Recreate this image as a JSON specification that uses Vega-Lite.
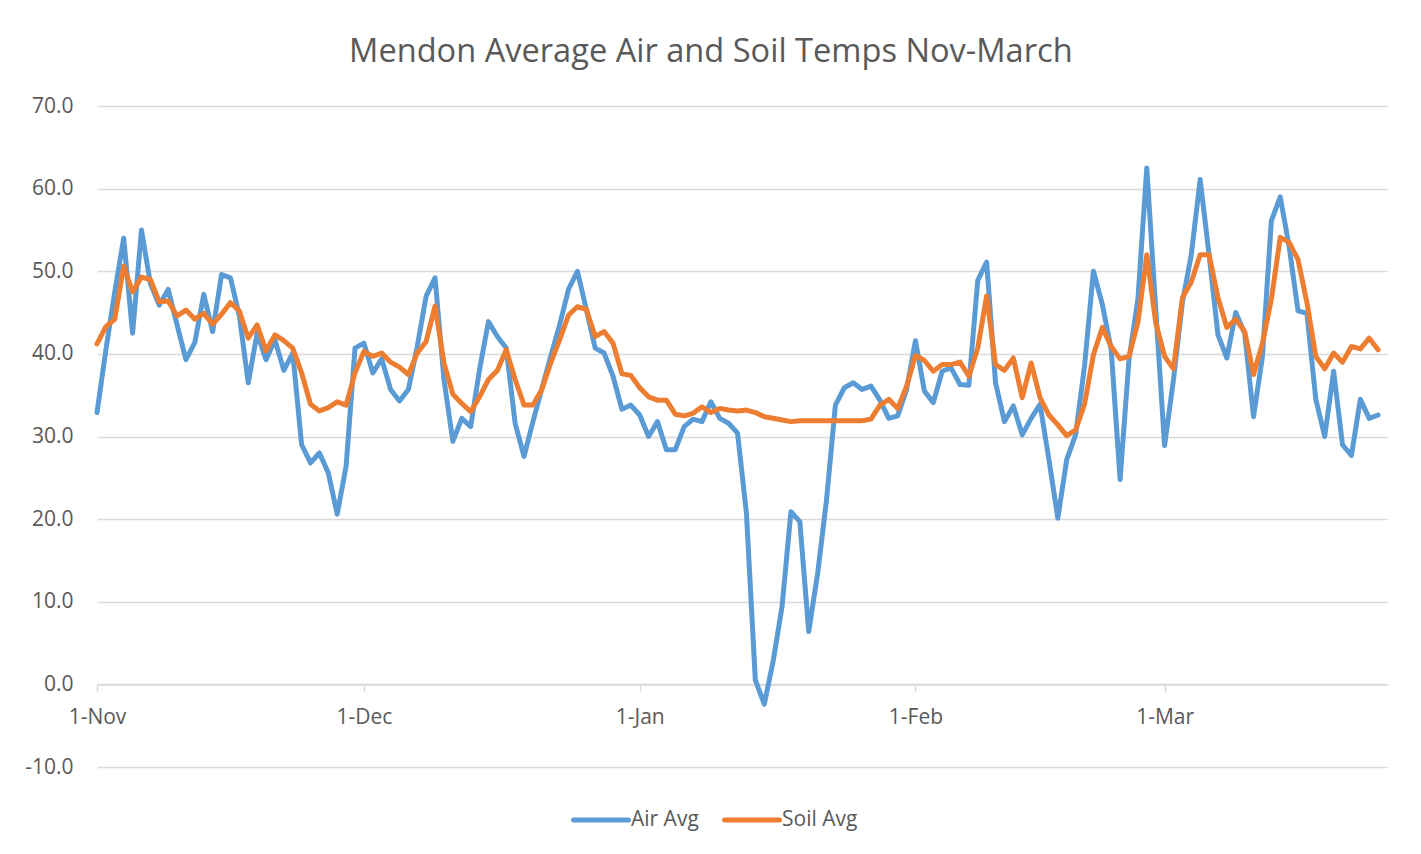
{
  "$schema": "https://vega.github.io/schema/vega-lite/v6.json",
  "width": 1290,
  "height": 661,
  "autosize": {"type": "none"},
  "padding": {"left": 97, "top": 106, "right": 34, "bottom": 87},
  "background": "white",
  "title": {
    "text": "Mendon Average Air and Soil Temps Nov-March",
    "font": "Open Sans",
    "fontSize": 32.6,
    "fontWeight": "normal",
    "color": "#595959",
    "anchor": "middle",
    "frame": "bounds",
    "offset": 26,
    "dx": 5
  },
  "data": {
    "values": [
      {"date":"2020-11-01","Air Avg":32.9,"Soil Avg":41.2},
      {"date":"2020-11-02","Air Avg":40.5,"Soil Avg":43.3},
      {"date":"2020-11-03","Air Avg":47.5,"Soil Avg":44.2},
      {"date":"2020-11-04","Air Avg":54.0,"Soil Avg":50.6},
      {"date":"2020-11-05","Air Avg":42.5,"Soil Avg":47.5},
      {"date":"2020-11-06","Air Avg":55.0,"Soil Avg":49.3},
      {"date":"2020-11-07","Air Avg":48.5,"Soil Avg":49.0},
      {"date":"2020-11-08","Air Avg":45.9,"Soil Avg":46.3},
      {"date":"2020-11-09","Air Avg":47.8,"Soil Avg":46.4},
      {"date":"2020-11-10","Air Avg":43.5,"Soil Avg":44.6},
      {"date":"2020-11-11","Air Avg":39.3,"Soil Avg":45.3},
      {"date":"2020-11-12","Air Avg":41.4,"Soil Avg":44.2},
      {"date":"2020-11-13","Air Avg":47.2,"Soil Avg":44.9},
      {"date":"2020-11-14","Air Avg":42.7,"Soil Avg":43.6},
      {"date":"2020-11-15","Air Avg":49.6,"Soil Avg":44.8},
      {"date":"2020-11-16","Air Avg":49.2,"Soil Avg":46.2},
      {"date":"2020-11-17","Air Avg":44.6,"Soil Avg":45.2},
      {"date":"2020-11-18","Air Avg":36.5,"Soil Avg":41.9},
      {"date":"2020-11-19","Air Avg":42.5,"Soil Avg":43.5},
      {"date":"2020-11-20","Air Avg":39.3,"Soil Avg":40.4},
      {"date":"2020-11-21","Air Avg":41.7,"Soil Avg":42.3},
      {"date":"2020-11-22","Air Avg":38.0,"Soil Avg":41.6},
      {"date":"2020-11-23","Air Avg":40.1,"Soil Avg":40.7},
      {"date":"2020-11-24","Air Avg":29.0,"Soil Avg":37.7},
      {"date":"2020-11-25","Air Avg":26.8,"Soil Avg":33.9},
      {"date":"2020-11-26","Air Avg":28.0,"Soil Avg":33.1},
      {"date":"2020-11-27","Air Avg":25.6,"Soil Avg":33.5},
      {"date":"2020-11-28","Air Avg":20.6,"Soil Avg":34.2},
      {"date":"2020-11-29","Air Avg":26.4,"Soil Avg":33.8},
      {"date":"2020-11-30","Air Avg":40.7,"Soil Avg":37.7},
      {"date":"2020-12-01","Air Avg":41.3,"Soil Avg":40.3},
      {"date":"2020-12-02","Air Avg":37.7,"Soil Avg":39.7},
      {"date":"2020-12-03","Air Avg":39.4,"Soil Avg":40.1},
      {"date":"2020-12-04","Air Avg":35.7,"Soil Avg":39.0},
      {"date":"2020-12-05","Air Avg":34.3,"Soil Avg":38.4},
      {"date":"2020-12-06","Air Avg":35.7,"Soil Avg":37.5},
      {"date":"2020-12-07","Air Avg":40.9,"Soil Avg":40.1},
      {"date":"2020-12-08","Air Avg":47.0,"Soil Avg":41.5},
      {"date":"2020-12-09","Air Avg":49.2,"Soil Avg":45.8},
      {"date":"2020-12-10","Air Avg":36.9,"Soil Avg":38.9},
      {"date":"2020-12-11","Air Avg":29.4,"Soil Avg":35.1},
      {"date":"2020-12-12","Air Avg":32.2,"Soil Avg":34.0},
      {"date":"2020-12-13","Air Avg":31.2,"Soil Avg":33.0},
      {"date":"2020-12-14","Air Avg":38.1,"Soil Avg":34.8},
      {"date":"2020-12-15","Air Avg":43.9,"Soil Avg":36.9},
      {"date":"2020-12-16","Air Avg":42.1,"Soil Avg":38.0},
      {"date":"2020-12-17","Air Avg":40.7,"Soil Avg":40.5},
      {"date":"2020-12-18","Air Avg":31.6,"Soil Avg":36.9},
      {"date":"2020-12-19","Air Avg":27.6,"Soil Avg":33.8},
      {"date":"2020-12-20","Air Avg":31.8,"Soil Avg":33.8},
      {"date":"2020-12-21","Air Avg":35.8,"Soil Avg":35.7},
      {"date":"2020-12-22","Air Avg":39.7,"Soil Avg":38.9},
      {"date":"2020-12-23","Air Avg":43.5,"Soil Avg":41.7},
      {"date":"2020-12-24","Air Avg":47.8,"Soil Avg":44.7},
      {"date":"2020-12-25","Air Avg":50.0,"Soil Avg":45.7},
      {"date":"2020-12-26","Air Avg":45.4,"Soil Avg":45.4},
      {"date":"2020-12-27","Air Avg":40.7,"Soil Avg":42.1},
      {"date":"2020-12-28","Air Avg":40.1,"Soil Avg":42.7},
      {"date":"2020-12-29","Air Avg":37.3,"Soil Avg":41.3},
      {"date":"2020-12-30","Air Avg":33.3,"Soil Avg":37.6},
      {"date":"2020-12-31","Air Avg":33.8,"Soil Avg":37.4},
      {"date":"2021-01-01","Air Avg":32.6,"Soil Avg":35.9},
      {"date":"2021-01-02","Air Avg":30.0,"Soil Avg":34.8},
      {"date":"2021-01-03","Air Avg":31.8,"Soil Avg":34.4},
      {"date":"2021-01-04","Air Avg":28.4,"Soil Avg":34.4},
      {"date":"2021-01-05","Air Avg":28.4,"Soil Avg":32.7},
      {"date":"2021-01-06","Air Avg":31.2,"Soil Avg":32.5},
      {"date":"2021-01-07","Air Avg":32.1,"Soil Avg":32.8},
      {"date":"2021-01-08","Air Avg":31.8,"Soil Avg":33.6},
      {"date":"2021-01-09","Air Avg":34.2,"Soil Avg":32.9},
      {"date":"2021-01-10","Air Avg":32.2,"Soil Avg":33.4},
      {"date":"2021-01-11","Air Avg":31.6,"Soil Avg":33.2},
      {"date":"2021-01-12","Air Avg":30.4,"Soil Avg":33.1},
      {"date":"2021-01-13","Air Avg":20.7,"Soil Avg":33.2},
      {"date":"2021-01-14","Air Avg":0.5,"Soil Avg":32.9},
      {"date":"2021-01-15","Air Avg":-2.4,"Soil Avg":32.4},
      {"date":"2021-01-16","Air Avg":2.8,"Soil Avg":32.2},
      {"date":"2021-01-17","Air Avg":9.4,"Soil Avg":32.0},
      {"date":"2021-01-18","Air Avg":20.9,"Soil Avg":31.8},
      {"date":"2021-01-19","Air Avg":19.7,"Soil Avg":31.9},
      {"date":"2021-01-20","Air Avg":6.4,"Soil Avg":31.9},
      {"date":"2021-01-21","Air Avg":13.4,"Soil Avg":31.9},
      {"date":"2021-01-22","Air Avg":22.3,"Soil Avg":31.9},
      {"date":"2021-01-23","Air Avg":33.8,"Soil Avg":31.9},
      {"date":"2021-01-24","Air Avg":35.9,"Soil Avg":31.9},
      {"date":"2021-01-25","Air Avg":36.5,"Soil Avg":31.9},
      {"date":"2021-01-26","Air Avg":35.7,"Soil Avg":31.9},
      {"date":"2021-01-27","Air Avg":36.1,"Soil Avg":32.1},
      {"date":"2021-01-28","Air Avg":34.4,"Soil Avg":33.8},
      {"date":"2021-01-29","Air Avg":32.2,"Soil Avg":34.5},
      {"date":"2021-01-30","Air Avg":32.5,"Soil Avg":33.4},
      {"date":"2021-01-31","Air Avg":35.7,"Soil Avg":36.1},
      {"date":"2021-02-01","Air Avg":41.6,"Soil Avg":39.8},
      {"date":"2021-02-02","Air Avg":35.5,"Soil Avg":39.2},
      {"date":"2021-02-03","Air Avg":34.1,"Soil Avg":37.9},
      {"date":"2021-02-04","Air Avg":37.9,"Soil Avg":38.7},
      {"date":"2021-02-05","Air Avg":38.3,"Soil Avg":38.7},
      {"date":"2021-02-06","Air Avg":36.3,"Soil Avg":39.0},
      {"date":"2021-02-07","Air Avg":36.2,"Soil Avg":37.3},
      {"date":"2021-02-08","Air Avg":48.9,"Soil Avg":40.7},
      {"date":"2021-02-09","Air Avg":51.1,"Soil Avg":47.0},
      {"date":"2021-02-10","Air Avg":36.5,"Soil Avg":38.7},
      {"date":"2021-02-11","Air Avg":31.8,"Soil Avg":38.0},
      {"date":"2021-02-12","Air Avg":33.7,"Soil Avg":39.5},
      {"date":"2021-02-13","Air Avg":30.2,"Soil Avg":34.7},
      {"date":"2021-02-14","Air Avg":32.2,"Soil Avg":38.9},
      {"date":"2021-02-15","Air Avg":33.9,"Soil Avg":34.7},
      {"date":"2021-02-16","Air Avg":27.2,"Soil Avg":32.6},
      {"date":"2021-02-17","Air Avg":20.1,"Soil Avg":31.4},
      {"date":"2021-02-18","Air Avg":27.2,"Soil Avg":30.1},
      {"date":"2021-02-19","Air Avg":30.2,"Soil Avg":30.8},
      {"date":"2021-02-20","Air Avg":38.5,"Soil Avg":33.9},
      {"date":"2021-02-21","Air Avg":50.0,"Soil Avg":39.9},
      {"date":"2021-02-22","Air Avg":46.0,"Soil Avg":43.2},
      {"date":"2021-02-23","Air Avg":40.5,"Soil Avg":40.9},
      {"date":"2021-02-24","Air Avg":24.8,"Soil Avg":39.4},
      {"date":"2021-02-25","Air Avg":39.3,"Soil Avg":39.7},
      {"date":"2021-02-26","Air Avg":46.6,"Soil Avg":43.8},
      {"date":"2021-02-27","Air Avg":62.5,"Soil Avg":52.0},
      {"date":"2021-02-28","Air Avg":45.5,"Soil Avg":43.8},
      {"date":"2021-03-01","Air Avg":28.9,"Soil Avg":39.7},
      {"date":"2021-03-02","Air Avg":36.9,"Soil Avg":38.2},
      {"date":"2021-03-03","Air Avg":46.2,"Soil Avg":46.8},
      {"date":"2021-03-04","Air Avg":52.0,"Soil Avg":48.7},
      {"date":"2021-03-05","Air Avg":61.1,"Soil Avg":52.0},
      {"date":"2021-03-06","Air Avg":52.0,"Soil Avg":52.0},
      {"date":"2021-03-07","Air Avg":42.3,"Soil Avg":46.8},
      {"date":"2021-03-08","Air Avg":39.5,"Soil Avg":43.2},
      {"date":"2021-03-09","Air Avg":45.0,"Soil Avg":44.2},
      {"date":"2021-03-10","Air Avg":42.5,"Soil Avg":42.7},
      {"date":"2021-03-11","Air Avg":32.4,"Soil Avg":37.5},
      {"date":"2021-03-12","Air Avg":39.7,"Soil Avg":41.3},
      {"date":"2021-03-13","Air Avg":56.1,"Soil Avg":46.6},
      {"date":"2021-03-14","Air Avg":59.0,"Soil Avg":54.1},
      {"date":"2021-03-15","Air Avg":53.0,"Soil Avg":53.5},
      {"date":"2021-03-16","Air Avg":45.2,"Soil Avg":51.4},
      {"date":"2021-03-17","Air Avg":44.9,"Soil Avg":46.2},
      {"date":"2021-03-18","Air Avg":34.5,"Soil Avg":39.7},
      {"date":"2021-03-19","Air Avg":30.0,"Soil Avg":38.2},
      {"date":"2021-03-20","Air Avg":37.9,"Soil Avg":40.1},
      {"date":"2021-03-21","Air Avg":29.0,"Soil Avg":39.0},
      {"date":"2021-03-22","Air Avg":27.7,"Soil Avg":40.9},
      {"date":"2021-03-23","Air Avg":34.5,"Soil Avg":40.6},
      {"date":"2021-03-24","Air Avg":32.2,"Soil Avg":41.9},
      {"date":"2021-03-25","Air Avg":32.6,"Soil Avg":40.5}
    ]
  },
  "transform": [
    {"fold": ["Air Avg", "Soil Avg"], "as": ["series", "temp"]}
  ],
  "mark": {"type": "line", "strokeWidth": 5, "strokeJoin": "round", "strokeCap": "round"},
  "encoding": {
    "x": {
      "field": "date",
      "type": "temporal",
      "scale": {
        "type": "utc",
        "domain": [
          {"year": 2020, "month": 11, "date": 1, "utc": true},
          {"year": 2021, "month": 3, "date": 26, "utc": true}
        ],
        "nice": false
      },
      "axis": {
        "title": null,
        "orient": "bottom",
        "offset": -82.6,
        "values": [
          {"year": 2020, "month": 11, "date": 1, "utc": true},
          {"year": 2020, "month": 12, "date": 1, "utc": true},
          {"year": 2021, "month": 1, "date": 1, "utc": true},
          {"year": 2021, "month": 2, "date": 1, "utc": true},
          {"year": 2021, "month": 3, "date": 1, "utc": true}
        ],
        "format": "%-d-%b",
        "grid": false,
        "domain": true,
        "domainColor": "#D9D9D9",
        "domainWidth": 1.5,
        "ticks": true,
        "tickColor": "#D9D9D9",
        "tickWidth": 1.5,
        "tickSize": 7,
        "labelPadding": 15,
        "labelFont": "Open Sans",
        "labelFontSize": 21,
        "labelColor": "#595959",
        "labelOverlap": false,
        "labelFlush": false,
        "labelBound": false
      }
    },
    "y": {
      "field": "temp",
      "type": "quantitative",
      "scale": {"domain": [-10, 70], "nice": false, "zero": false},
      "axis": {
        "title": null,
        "values": [-10, 0, 10, 20, 30, 40, 50, 60, 70],
        "format": ".1f",
        "labelExpr": "replace(datum.label, '−', '-')",
        "domain": false,
        "ticks": false,
        "grid": true,
        "gridColor": "#D9D9D9",
        "gridWidth": 1.5,
        "labelPadding": 24,
        "labelFont": "Open Sans",
        "labelFontSize": 21,
        "labelColor": "#595959"
      }
    },
    "color": {
      "field": "series",
      "type": "nominal",
      "scale": {"domain": ["Air Avg", "Soil Avg"], "range": ["#5B9BD5", "#ED7D31"]},
      "legend": {
        "title": null,
        "orient": "none",
        "legendX": 474,
        "legendY": 684,
        "direction": "horizontal",
        "symbolType": "stroke",
        "symbolSize": 3025,
        "symbolStrokeWidth": 5,
        "labelFont": "Open Sans",
        "labelFontSize": 21,
        "labelColor": "#595959",
        "labelOffset": 0,
        "columnPadding": 15,
        "padding": 0,
        "encode": {"symbols": {"update": {"strokeCap": {"value": "round"}}}}
      }
    }
  },
  "config": {
    "view": {"stroke": null},
    "legend": {"symbolType": "stroke"}
  }
}
